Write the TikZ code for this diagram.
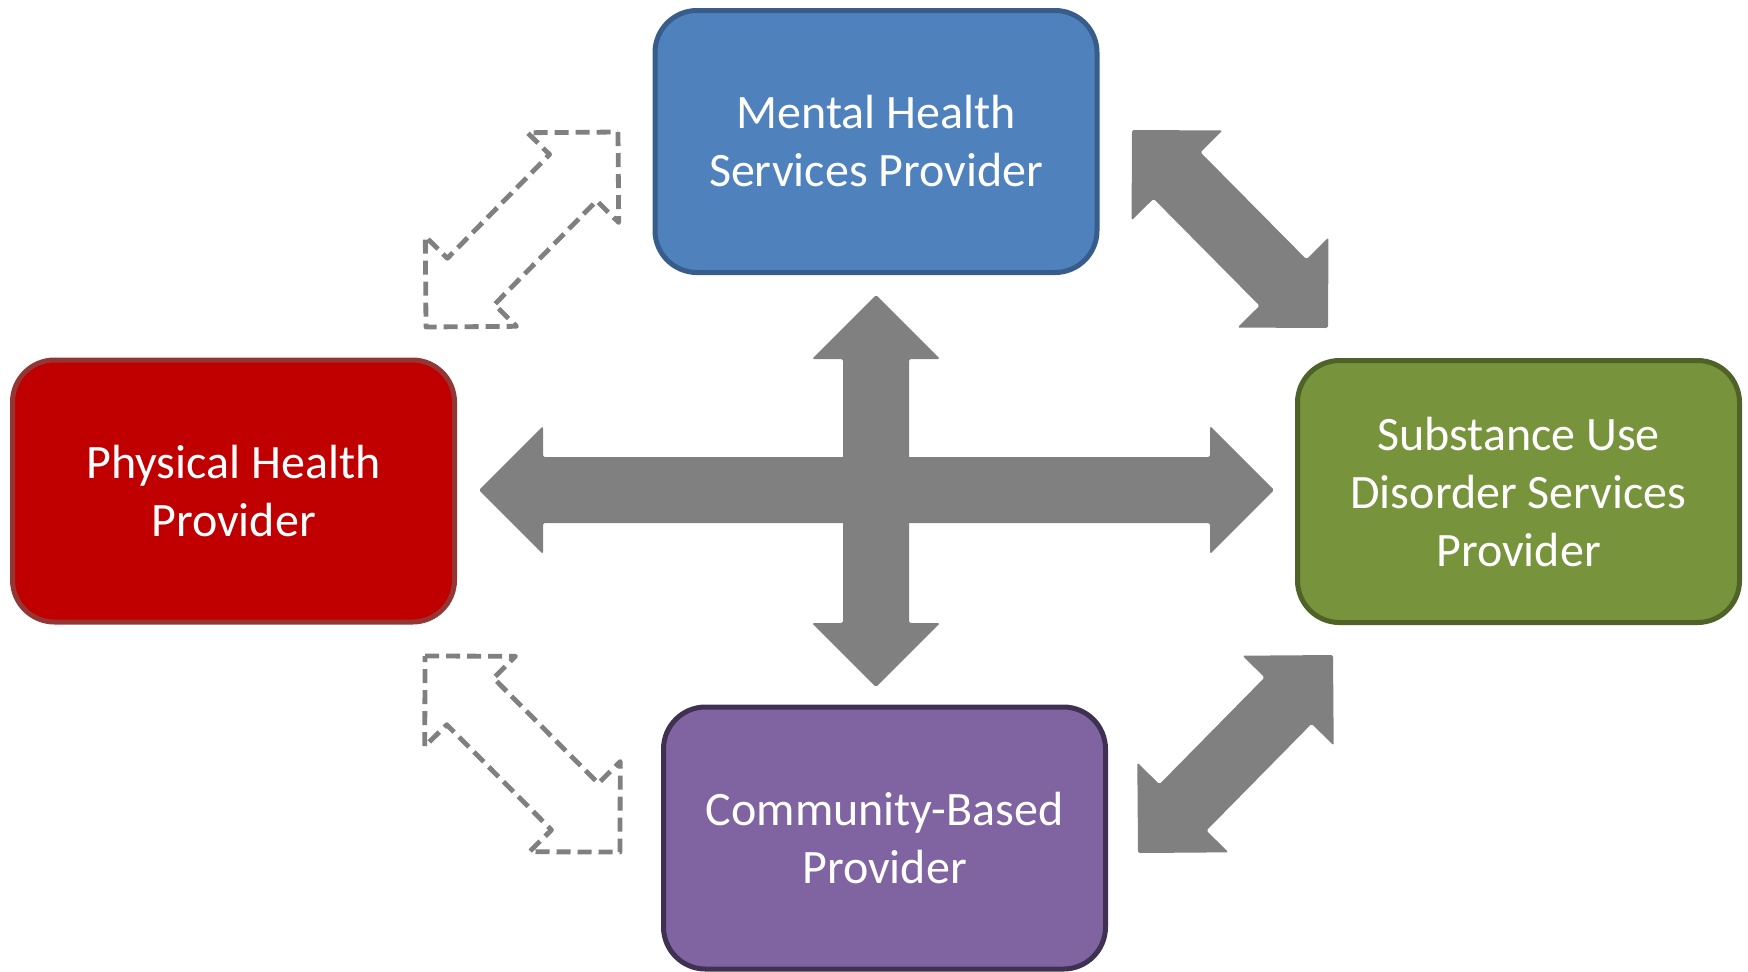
\documentclass[tikz,border=0pt]{standalone}
\usepackage{fontspec}
\setmainfont{Carlito}
\usetikzlibrary{calc}
\definecolor{mhfill}{HTML}{4F81BD}
\definecolor{mhline}{HTML}{385D8A}
\definecolor{phfill}{HTML}{C00000}
\definecolor{phline}{HTML}{943634}
\definecolor{sufill}{HTML}{77933C}
\definecolor{suline}{HTML}{4F6228}
\definecolor{cofill}{HTML}{8064A2}
\definecolor{coline}{HTML}{3F3151}
\definecolor{arrgray}{HTML}{808080}
\newcommand{\dblarrow}[3]{%
  \path[#1] (#2)
    -- ($(#2)!32pt!(#3)!32pt!90:(#3)$)
    -- ($(#2)!32pt!(#3)!16.5pt!90:(#3)$)
    -- ($(#3)!32pt!(#2)!16.5pt!-90:(#2)$)
    -- ($(#3)!32pt!(#2)!32pt!-90:(#2)$)
    -- (#3)
    -- ($(#3)!32pt!(#2)!32pt!90:(#2)$)
    -- ($(#3)!32pt!(#2)!16.5pt!90:(#2)$)
    -- ($(#2)!32pt!(#3)!16.5pt!-90:(#3)$)
    -- ($(#2)!32pt!(#3)!32pt!-90:(#3)$)
    -- cycle;}
\tikzset{
  provider/.style={draw, line width=2.5pt, rounded corners=21pt,
    minimum width=221pt, minimum height=131pt, inner sep=0pt,
    align=center, text=white, font=\fontsize{24}{29}\selectfont},
  solidarrow/.style={fill=arrgray, rounded corners=0.8pt},
  dasharrow/.style={draw=arrgray, line width=2.4pt, dash pattern=on 7pt off 3.5pt, line join=round}
}
\begin{document}
\begin{tikzpicture}[x=0.5pt,y=-0.5pt]
\useasboundingbox (0,0) rectangle (1748,971);
\node[provider, fill=mhfill, draw=mhline] (mental) at (876,141.5) {Mental Health\\Services Provider};
\node[provider, fill=phfill, draw=phline] (phys) at (233.5,491) {Physical Health\\Provider};
\node[provider, fill=sufill, draw=suline] (subs) at (1518.5,491.5) {Substance Use\\Disorder Services\\Provider};
\node[provider, fill=cofill, draw=coline] (comm) at (884.5,838) {Community-Based\\Provider};
% central cross
\coordinate (hl) at (479,490);
\coordinate (hr) at (1274,490);
\coordinate (vt) at (876,295);
\coordinate (vb) at (876,687);
\dblarrow{solidarrow}{hl}{hr}
\dblarrow{solidarrow}{vt}{vb}
% diagonal solid arrows
\coordinate (urA) at (1132,130);
\coordinate (urB) at (1328,328);
\coordinate (lrA) at (1333,655);
\coordinate (lrB) at (1138,853);
\dblarrow{solidarrow}{urA}{urB}
\dblarrow{solidarrow}{lrA}{lrB}
% diagonal dashed arrows
\coordinate (ulA) at (618,132);
\coordinate (ulB) at (426,327);
\coordinate (llA) at (425,656);
\coordinate (llB) at (620,852);
\dblarrow{dasharrow}{ulA}{ulB}
\dblarrow{dasharrow}{llA}{llB}
\end{tikzpicture}
\end{document}
